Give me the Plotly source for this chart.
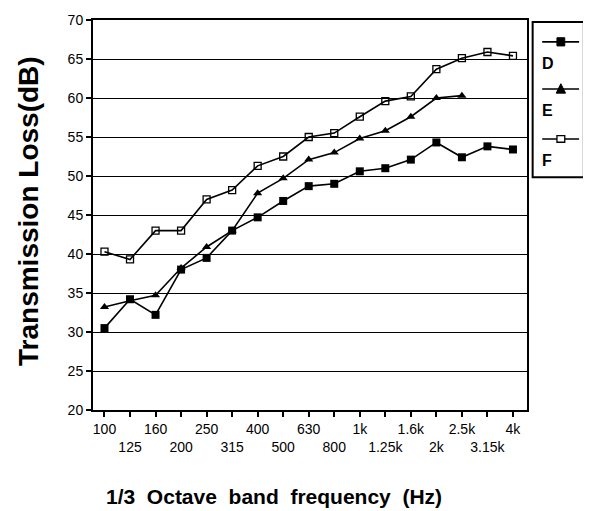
import plotly.graph_objects as go

categories = ["100", "125", "160", "200", "250", "315", "400", "500", "630", "800",
              "1k", "1.25k", "1.6k", "2k", "2.5k", "3.15k", "4k"]
D = [30.5, 34.2, 32.2, 38.0, 39.5, 43.0, 44.7, 46.8, 48.7, 49.0, 50.6, 51.0, 52.1, 54.3, 52.4, 53.8, 53.4]
E = [33.2, 34.0, 34.7, 38.2, 40.9, 43.0, 47.8, 49.7, 52.1, 53.0, 54.8, 55.8, 57.6, 60.0, 60.3, None, None]
F = [40.3, 39.3, 43.0, 43.0, 47.0, 48.2, 51.3, 52.5, 55.0, 55.5, 57.6, 59.6, 60.2, 63.7, 65.1, 65.9, 65.4]
y_ticks = list(range(20, 75, 5))

x = list(range(len(categories)))
tick_text = [c if i % 2 == 0 else "<br>" + c for i, c in enumerate(categories)]

fig = go.Figure()
line = dict(color="black", width=1.6)
fig.add_trace(go.Scatter(x=x, y=D, mode="lines+markers", name="D", line=line,
                         marker=dict(symbol="square", size=8, color="black")))
fig.add_trace(go.Scatter(x=x, y=E, mode="lines+markers", name="E", line=line,
                         marker=dict(symbol="triangle-up", size=8, color="black")))
fig.add_trace(go.Scatter(x=x, y=F, mode="lines+markers", name="F", line=line,
                         marker=dict(symbol="square-open", size=7, color="black",
                                     line=dict(width=1.3))))

tickfont = dict(family="Liberation Sans, Arial, sans-serif", size=14, color="black")
bold = dict(family="Liberation Sans, Arial, sans-serif", color="black")
fig.update_xaxes(range=[-0.45, 16.55], tickmode="array", tickvals=x, ticktext=tick_text,
                 tickangle=0, automargin=False,
                 ticks="outside", ticklen=5, tickcolor="black", tickwidth=1.5,
                 showline=True, linecolor="black", linewidth=2, mirror=True,
                 showgrid=False, zeroline=False, tickfont=tickfont)
fig.update_yaxes(range=[20, 70], tickmode="array", tickvals=y_ticks, automargin=False,
                 ticks="outside", ticklen=5, tickcolor="black", tickwidth=1.5,
                 showline=True, linecolor="black", linewidth=2, mirror=True,
                 showgrid=True, gridcolor="black", gridwidth=1.3, zeroline=False,
                 tickfont=tickfont)

annotations = [
    dict(text="<b>Transmission Loss(dB)</b>", xref="paper", yref="paper", x=-0.15, y=0.51,
         textangle=-90, showarrow=False, xanchor="center", yanchor="middle",
         font=dict(size=28, **bold)),
    dict(text="<b>1/3&nbsp; Octave&nbsp; band&nbsp; frequency&nbsp; (Hz)</b>", xref="paper", yref="paper",
         x=0.417, y=-0.222, showarrow=False, xanchor="center", yanchor="middle",
         font=dict(size=21, **bold)),
]

# manual legend
shapes = [dict(type="rect", xref="paper", yref="paper", x0=1.013, x1=1.131, y0=0.597, y1=0.995,
               line=dict(color="black", width=2), fillcolor="white")]
entries = [("D", 0.944, "sq"), ("E", 0.823, "tri"), ("F", 0.695, "open")]
for name, yl, kind in entries:
    shapes.append(dict(type="line", xref="paper", yref="paper", x0=1.035, x1=1.12, y0=yl, y1=yl,
                       line=dict(color="black", width=1.6)))
    xc = 1.078
    dx, dy = 0.009, 0.0105
    if kind == "sq":
        shapes.append(dict(type="rect", xref="paper", yref="paper", x0=xc - dx, x1=xc + dx,
                           y0=yl - dy, y1=yl + dy, fillcolor="black", line=dict(color="black", width=1)))
    elif kind == "tri":
        shapes.append(dict(type="path", xref="paper", yref="paper",
                           path=f"M {xc-dx*1.2} {yl-dy} L {xc+dx*1.2} {yl-dy} L {xc} {yl+dy*1.3} Z",
                           fillcolor="black", line=dict(color="black", width=1)))
    else:
        shapes.append(dict(type="rect", xref="paper", yref="paper", x0=xc - dx, x1=xc + dx,
                           y0=yl - dy * 0.8, y1=yl + dy * 0.8, fillcolor="white",
                           line=dict(color="black", width=1.3)))
    annotations.append(dict(text="<b>" + name + "</b>", xref="paper", yref="paper", x=1.03, y=yl - 0.056,
                            xanchor="left", yanchor="middle", showarrow=False,
                            font=dict(size=16, **bold)))

fig.update_layout(width=591, height=511, margin=dict(l=85, r=72, t=12, b=109),
                  paper_bgcolor="white", plot_bgcolor="white", showlegend=False,
                  shapes=shapes, annotations=annotations)
fig.write_html("out.html")
